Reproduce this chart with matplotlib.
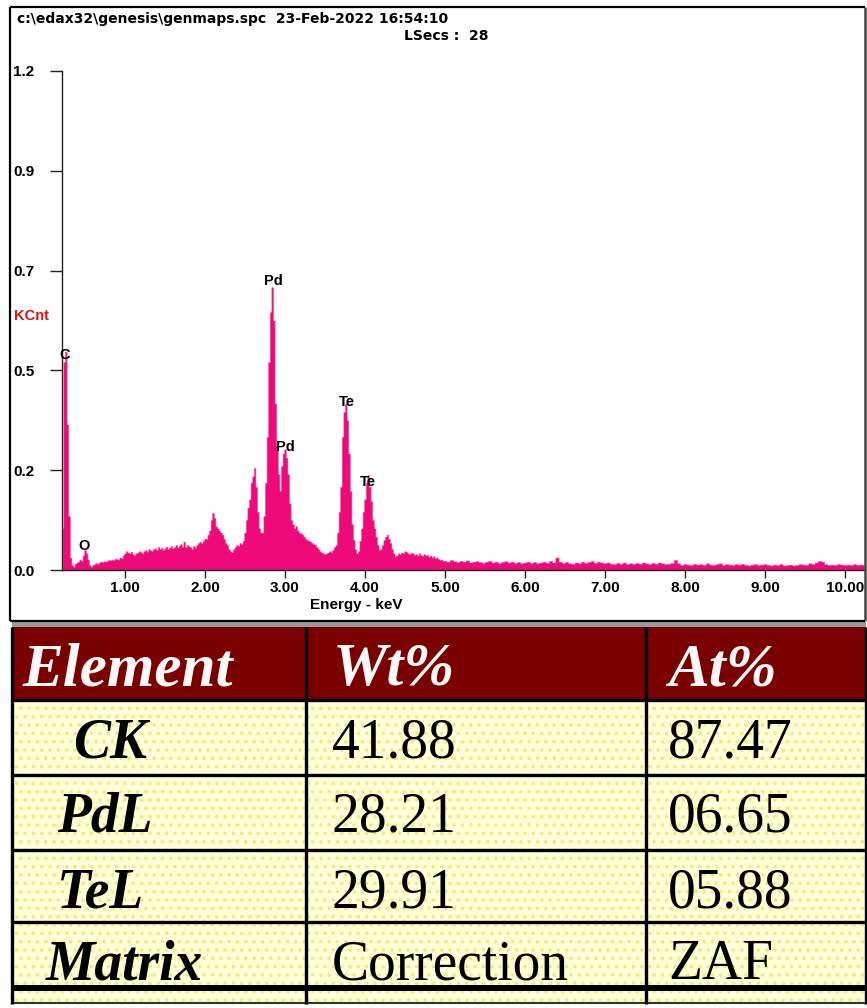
import numpy as np
import matplotlib
matplotlib.use("Agg")
import matplotlib.pyplot as plt
from matplotlib.patches import Rectangle

# ---------------- data ----------------
# spectrum (KCnt), fine channels 0.22 .. 4.98 keV step 0.02
lo_start, lo_step = 0.22, 0.02
counts_lo = [
    0.10, 0.50, 0.525, 0.35, 0.13, 0.03, 0.012, 0.008, 0.015, 0.018,
    0.02, 0.025, 0.022, 0.035, 0.048, 0.04, 0.025, 0.012, 0.008, 0.012,
    0.014, 0.016, 0.015, 0.018, 0.02, 0.019, 0.021, 0.02, 0.022, 0.024,
    0.023, 0.025, 0.024, 0.027, 0.026, 0.025, 0.03, 0.028, 0.035, 0.04,
    0.045, 0.042, 0.04, 0.044, 0.038, 0.035, 0.04, 0.042, 0.045, 0.043,
    0.04, 0.045, 0.048, 0.044, 0.05, 0.047, 0.046, 0.05, 0.052, 0.048,
    0.055, 0.05, 0.053, 0.048, 0.052, 0.056, 0.05, 0.054, 0.058, 0.052,
    0.055, 0.06, 0.054, 0.058, 0.062, 0.056, 0.068, 0.055, 0.06, 0.057,
    0.055, 0.05, 0.058, 0.054, 0.06, 0.065, 0.068, 0.065, 0.07, 0.075,
    0.075, 0.085, 0.095, 0.12, 0.137, 0.125, 0.105, 0.10, 0.095, 0.09,
    0.085, 0.075, 0.065, 0.06, 0.05, 0.045, 0.043, 0.05, 0.055, 0.06,
    0.058, 0.065, 0.062, 0.07, 0.09, 0.12, 0.15, 0.17, 0.21, 0.225,
    0.245, 0.20, 0.14, 0.10, 0.09, 0.09, 0.13, 0.21, 0.32, 0.50,
    0.62, 0.68, 0.60, 0.40, 0.30, 0.23, 0.19, 0.25, 0.28, 0.29,
    0.27, 0.23, 0.16, 0.12, 0.11, 0.10, 0.105, 0.095, 0.09, 0.088,
    0.085, 0.08, 0.075, 0.072, 0.07, 0.068, 0.065, 0.062, 0.06, 0.055,
    0.05, 0.045, 0.042, 0.04, 0.038, 0.04, 0.042, 0.045, 0.043, 0.048,
    0.055, 0.06, 0.09, 0.14, 0.20, 0.32, 0.38, 0.40, 0.36, 0.28,
    0.19, 0.11, 0.072, 0.05, 0.04, 0.045, 0.07, 0.10, 0.14, 0.17,
    0.21, 0.228, 0.20, 0.165, 0.12, 0.10, 0.08, 0.06, 0.048, 0.05,
    0.06, 0.072, 0.08, 0.085, 0.075, 0.065, 0.05, 0.04, 0.032, 0.035,
    0.04, 0.038, 0.042, 0.04, 0.045, 0.043, 0.04, 0.038, 0.042, 0.04,
    0.036, 0.038, 0.035, 0.04, 0.036, 0.034, 0.038, 0.035, 0.036, 0.032,
    0.035, 0.03, 0.033, 0.028, 0.03, 0.026, 0.024, 0.025, 0.022,
]
# coarse channels 5.00 .. 10.24 keV step 0.04
hi_start, hi_step = 5.00, 0.04
counts_hi = [
    0.022, 0.02, 0.024, 0.021, 0.019, 0.022, 0.02, 0.023, 0.018, 0.02,
    0.021, 0.019, 0.017, 0.02, 0.022, 0.018, 0.02, 0.016, 0.019, 0.021,
    0.018, 0.02, 0.017, 0.019, 0.016, 0.018, 0.02, 0.017, 0.019, 0.016,
    0.018, 0.02, 0.017, 0.022, 0.018, 0.03, 0.02, 0.017, 0.019, 0.016,
    0.015, 0.018, 0.016, 0.02, 0.017, 0.019, 0.021, 0.017, 0.02, 0.018,
    0.016, 0.018, 0.015, 0.014, 0.017, 0.015, 0.018, 0.014, 0.016, 0.015,
    0.017, 0.015, 0.018, 0.016, 0.014, 0.017, 0.015, 0.018, 0.016, 0.014,
    0.015, 0.017, 0.024, 0.016, 0.012, 0.014, 0.013, 0.012, 0.015, 0.013,
    0.014, 0.012, 0.016, 0.013, 0.012, 0.014, 0.016, 0.012, 0.014, 0.013,
    0.012, 0.014, 0.013, 0.015, 0.012, 0.011, 0.013, 0.014, 0.012, 0.013,
    0.014, 0.012, 0.011, 0.013, 0.012, 0.014, 0.011, 0.012, 0.013, 0.011,
    0.012, 0.014, 0.013, 0.012, 0.016, 0.014, 0.018, 0.022, 0.02, 0.014,
    0.012, 0.013, 0.012, 0.014, 0.013, 0.012, 0.013, 0.012, 0.014, 0.012,
    0.013, 0.012,
]

x_ticks = [1, 2, 3, 4, 5, 6, 7, 8, 9, 10]
x_tick_labels = ["1.00", "2.00", "3.00", "4.00", "5.00", "6.00", "7.00", "8.00", "9.00", "10.00"]
y_ticks = [0.0, 0.24, 0.48, 0.72, 0.96, 1.2]
y_tick_labels = ["0.0", "0.2", "0.5", "0.7", "0.9", "1.2"]

peak_labels = ["C", "O", "Pd", "Pd", "Te", "Te"]
peak_energy = [0.25, 0.49, 2.86, 3.01, 3.775, 4.04]
peak_kcnt = [0.517, 0.058, 0.695, 0.296, 0.404, 0.212]

header_line1 = "c:\\edax32\\genesis\\genmaps.spc  23-Feb-2022 16:54:10"
header_line2 = "LSecs :  28"

table_header = ["Element", "Wt%", "At%"]
table_element = ["CK", "PdL", "TeL", "Matrix"]
table_wt = ["41.88", "28.21", "29.91", "Correction"]
table_at = ["87.47", "06.65", "05.88", "ZAF"]

# ---------------- figure ----------------
W, H = 867, 1008
fig = plt.figure(figsize=(W / 100, H / 100), dpi=100)
fig.patch.set_facecolor("white")

bg = fig.add_axes([0, 0, 1, 1], zorder=0)
bg.set_xlim(0, W)
bg.set_ylim(H, 0)
bg.axis("off")

PINK = "#ee0a78"
SANS = "Liberation Sans"

# spectrum axes: pixel mapping 0 keV at x=45, 80 px/keV; y 0 at 570, 1.2 at 71
ax_l, ax_r, ax_b, ax_t = 62, 865, 570, 71
ax = fig.add_axes([ax_l / W, 1 - ax_b / H, (ax_r - ax_l) / W, (ax_b - ax_t) / H], zorder=2)
ax.patch.set_alpha(0)
ax.set_xlim((ax_l - 45) / 80, (ax_r - 45) / 80)
ax.set_ylim(0, 1.2)

e_lo = lo_start + lo_step * np.arange(len(counts_lo))
e_hi = hi_start + hi_step * np.arange(len(counts_hi))
energies = np.concatenate([e_lo, e_hi])
counts = np.concatenate([counts_lo, counts_hi])
ax.fill_between(energies, counts, step="mid", color=PINK, lw=0.4, edgecolor="#f04a98")

for s in ["top", "right"]:
    ax.spines[s].set_visible(False)
for s in ["left", "bottom"]:
    ax.spines[s].set_linewidth(1.0)
    ax.spines[s].set_color("#222222")

ax.set_xticks(x_ticks)
ax.set_xticklabels(x_tick_labels)
ax.set_yticks(y_ticks)
ax.set_yticklabels(y_tick_labels)
ax.tick_params(axis="y", direction="out", length=8.6, width=1.0, pad=26.5,
               labelsize=11, color="#222222")
ax.tick_params(axis="x", direction="out", length=5.8, width=1.0, pad=2,
               labelsize=11, color="#222222")
for lab in ax.get_xticklabels() + ax.get_yticklabels():
    lab.set_fontfamily(SANS)
    lab.set_fontweight("bold")
for lab in ax.get_yticklabels():
    lab.set_horizontalalignment("left")

for name, e, k in zip(peak_labels, peak_energy, peak_kcnt):
    ax.text(e, k, name, ha="center", va="center", fontsize=10.5,
            fontfamily=SANS, fontweight="bold", color="black", zorder=5)

# header / axis titles
bg.text(17, 19, header_line1, ha="left", va="center", fontsize=10,
        fontfamily="DejaVu Sans", fontweight="bold")
bg.text(489, 36, header_line2, ha="right", va="center", fontsize=10,
        fontfamily="DejaVu Sans", fontweight="bold")
bg.text(14, 316, "KCnt", ha="left", va="center", fontsize=10.5,
        fontfamily=SANS, fontweight="bold", color="#e01010")
bg.text(356, 605, "Energy - keV", ha="center", va="center", fontsize=11,
        fontfamily=SANS, fontweight="bold")

# ---------------- table ----------------
T_L, T_R = 12, 866
col_x = [T_L, 306, 646, T_R]
hdr_top, hdr_bot = 627, 700
row_edges = [700, 775, 850, 922, 985]
strip = (991, 1003)

bg.add_patch(Rectangle((T_L, 622), T_R - T_L, 5, fc="#9a9a9a", lw=0, zorder=1))
bg.add_patch(Rectangle((T_L, hdr_top), T_R - T_L, hdr_bot - hdr_top, fc="#7a0000", lw=0, zorder=1))
plt.rcParams["hatch.linewidth"] = 1.4
for y0, y1 in list(zip(row_edges[:-1], row_edges[1:])) + [strip]:
    bg.add_patch(Rectangle((T_L, y0), T_R - T_L, y1 - y0, fc="#ffffd8",
                           ec="#ecec84", hatch="..", lw=0, zorder=1))
# thick line
bg.add_patch(Rectangle((T_L, 985), T_R - T_L, 6, fc="black", lw=0, zorder=2))
# horizontal lines
for y in row_edges[:-1]:
    bg.plot([T_L, T_R], [y, y], color="black", lw=2.4, zorder=3, solid_capstyle="butt")
bg.plot([T_L, T_R], [1003, 1003], color="#333333", lw=1.5, zorder=3)
# vertical lines
for x in col_x:
    bg.plot([x, x], [hdr_top, 1004], color="black", lw=2.4, zorder=3, solid_capstyle="butt")

SERIF = "Liberation Serif"
hdr_x = [22, 333, 668]
for x, t in zip(hdr_x, table_header):
    bg.text(x, 685, t, ha="left", va="baseline", fontsize=44, fontfamily=SERIF,
            fontweight="bold", fontstyle="italic", color="#fff8f8", zorder=4)

baselines = [757, 832, 907, 979]
elem_cx = [110, 105, 101, 124]
for i in range(4):
    bg.text(elem_cx[i], baselines[i], table_element[i], ha="center", va="baseline",
            fontsize=40, fontfamily=SERIF, fontweight="bold", fontstyle="italic",
            color="black", zorder=4)
    bg.text(332, baselines[i], table_wt[i], ha="left", va="baseline",
            fontsize=40, fontfamily=SERIF, color="black", zorder=4)
    bg.text(668, baselines[i], table_at[i], ha="left", va="baseline",
            fontsize=40, fontfamily=SERIF, color="black", zorder=4)

# ---------------- frame of the spectrum panel (on top) ----------------
ov = fig.add_axes([0, 0, 1, 1], zorder=10)
ov.set_xlim(0, W)
ov.set_ylim(H, 0)
ov.axis("off")
ov.patch.set_alpha(0)
ov.add_patch(Rectangle((866, 0), 2, 622, fc="white", lw=0))
ov.plot([10, 865], [7, 7], color="black", lw=1.6, solid_capstyle="butt")
ov.plot([10, 10], [7, 621], color="black", lw=1.6, solid_capstyle="butt")
ov.plot([864.5, 864.5], [7, 621], color="#444444", lw=1.8, solid_capstyle="butt")
ov.plot([10, 865], [621, 621], color="black", lw=1.6, solid_capstyle="butt")

fig.savefig("out.png", dpi=100, facecolor="white")
